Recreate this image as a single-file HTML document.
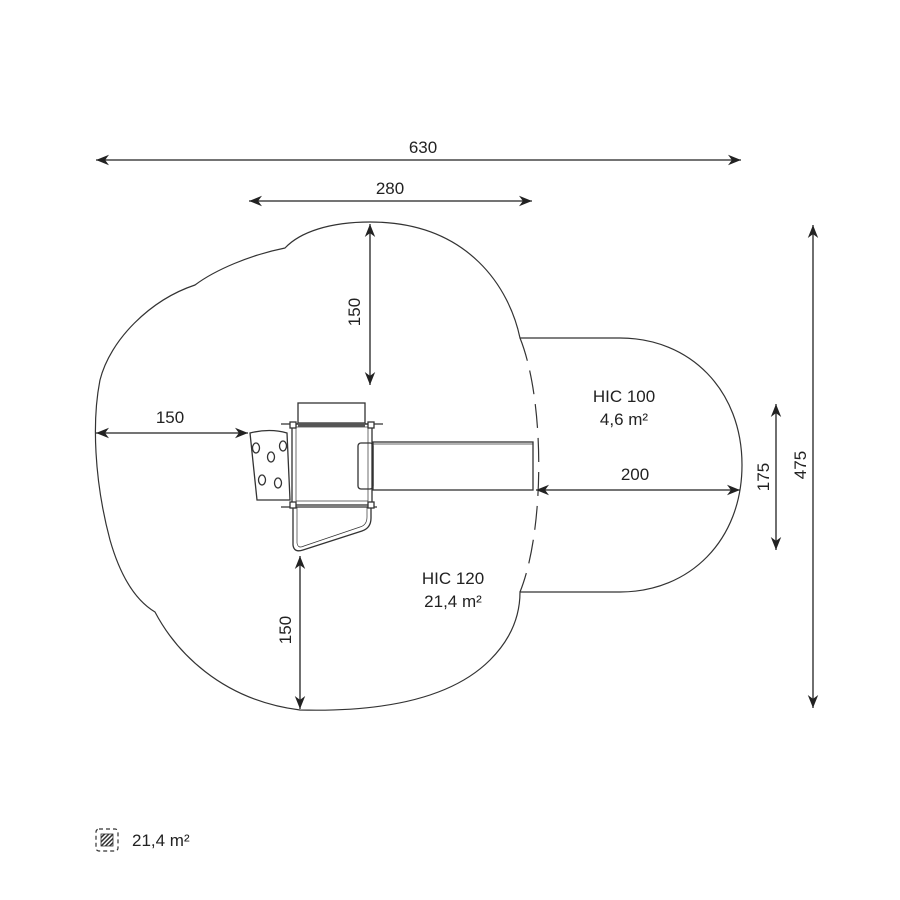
<!DOCTYPE html>
<html><head><style>body{margin:0;background:#fff}svg{display:block}text{font-family:"Liberation Sans",sans-serif;font-size:17px;fill:#222}</style></head><body>
<svg width="900" height="900" viewBox="0 0 900 900">
<defs><marker id="a" viewBox="0 0 10 10" refX="10" refY="5" markerWidth="10" markerHeight="10" orient="auto-start-reverse"><path d="M0,1 L10,5 L0,9 L3,5z" fill="#222"/></marker>
<pattern id="h" width="3" height="3" patternUnits="userSpaceOnUse" patternTransform="rotate(45)"><rect width="1.5" height="3" fill="#333"/></pattern></defs>
<g fill="none" stroke="#333" stroke-width="1.2">
<path d="M370,222 C330,222 300,232 285,248 C250,255 215,270 195,285 C150,300 110,340 100,380 C92,420 94,480 110,540 C120,575 135,600 155,612 C175,650 220,700 300,710 C380,712 450,700 490,660 C515,635 520,610 520,592 L620,592 C690,592 742,540 742,465 C742,390 690,338 620,338 L520,338 C510,290 470,222 370,222 Z"/>
<path d="M520,338 C545,400 545,530 520,592" stroke-dasharray="24,10"/>
</g>
<g stroke="#222" stroke-width="1.3" marker-start="url(#a)" marker-end="url(#a)">
<line x1="96" y1="160" x2="741" y2="160"/>
<line x1="249" y1="201" x2="532" y2="201"/>
<line x1="370" y1="224" x2="370" y2="385"/>
<line x1="96" y1="433" x2="248" y2="433"/>
<line x1="536" y1="490" x2="740" y2="490"/>
<line x1="776" y1="404" x2="776" y2="550"/>
<line x1="813" y1="225" x2="813" y2="708"/>
<line x1="300" y1="556" x2="300" y2="709"/>
</g>
<text x="423" y="153" text-anchor="middle">630</text>
<text x="390" y="194" text-anchor="middle">280</text>
<text x="170" y="423" text-anchor="middle">150</text>
<text x="635" y="480" text-anchor="middle">200</text>
<text transform="translate(360,312) rotate(-90)" text-anchor="middle">150</text>
<text transform="translate(291,630) rotate(-90)" text-anchor="middle">150</text>
<text transform="translate(769,477) rotate(-90)" text-anchor="middle">175</text>
<text transform="translate(806,465) rotate(-90)" text-anchor="middle">475</text>
<text x="624" y="402" text-anchor="middle">HIC 100</text>
<text x="624" y="425" text-anchor="middle">4,6 m²</text>
<text x="453" y="584" text-anchor="middle">HIC 120</text>
<text x="453" y="607" text-anchor="middle">21,4 m²</text>
<g fill="none" stroke="#333" stroke-width="1.3">
<rect x="298" y="403" width="67" height="20"/>
<rect x="292" y="424" width="80" height="81"/>
<rect x="296" y="427" width="72" height="74" stroke-width="0.7"/>
<line x1="281" y1="424" x2="383" y2="424"/>
<line x1="281" y1="507" x2="377" y2="507"/>
<rect x="373" y="442" width="160" height="48"/>
<line x1="373" y1="444" x2="533" y2="444" stroke-width="0.7"/>
<rect x="358" y="443" width="15" height="46" rx="3"/>
<path d="M250,433 Q270,428 287,433 L290,500 L257,500 Z"/>
<path d="M293,507 L293,545 Q294,553 303,550 L362,531 Q371,528 371,518 L371,507"/>
<path d="M297,507 L297,543 Q298,549 304,546 L360,527 Q367,525 367,517 L367,507" stroke-width="0.7"/>
<rect x="290" y="422" width="6" height="6" fill="#fff"/><rect x="368" y="422" width="6" height="6" fill="#fff"/>
<rect x="290" y="502" width="6" height="6" fill="#fff"/><rect x="368" y="502" width="6" height="6" fill="#fff"/>
<ellipse cx="256" cy="448" rx="3.5" ry="5"/><ellipse cx="271" cy="457" rx="3.5" ry="5"/><ellipse cx="283" cy="446" rx="3.5" ry="5"/>
<ellipse cx="262" cy="480" rx="3.5" ry="5"/><ellipse cx="278" cy="483" rx="3.5" ry="5"/>
</g>
<rect x="298" y="423" width="67" height="4" fill="#555"/>
<rect x="96" y="829" width="22" height="22" fill="none" stroke="#333" stroke-width="1.2" stroke-dasharray="4,3" rx="3"/>
<rect x="101" y="834" width="12" height="12" fill="url(#h)" stroke="#333" stroke-width="0.8"/>
<text x="132" y="846">21,4 m²</text>
</svg>
</body></html>
